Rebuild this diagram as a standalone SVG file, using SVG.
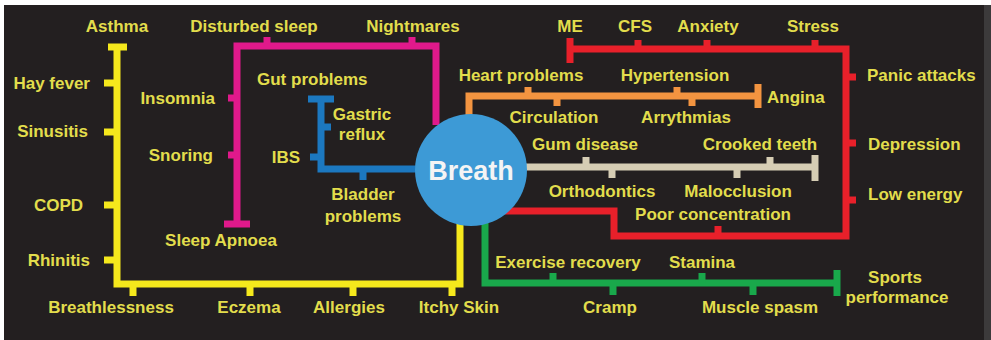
<svg xmlns="http://www.w3.org/2000/svg" width="991" height="340" viewBox="0 0 991 340">
<style>
text{font-family:"Liberation Sans",Arial,sans-serif;font-weight:bold;font-size:17px;fill:#e2dd4c}
.m{text-anchor:middle}.e{text-anchor:end}
.c path{fill:none;stroke-width:7;stroke-linecap:butt;stroke-linejoin:miter}
.y path{stroke:#f5e81c}.p path{stroke:#e0198b}.b path{stroke:#1c78c0}.o path{stroke:#f39440}
.t path{stroke:#d6cdb4}.r path{stroke:#e8202a}.g path{stroke:#19a84b}
</style>
<rect width="991" height="340" fill="#ffffff"/>
<rect x="4" y="5" width="981" height="335" fill="#231f20"/>
<rect x="984" y="5" width="7" height="335" fill="#3c3a3b"/>
<g id="connectors" class="c">
<g class="y"><path d="M117,44V284H460V222"/><path d="M108,47H127"/><path d="M104,83H117M104,132H117M104,205H117M104,260H117"/><path d="M133,284V296M250,284V296M353,284V296M452,284V296"/></g>
<g class="p"><path d="M237,224V46H436V125"/><path d="M224,224H250"/><path d="M267,46V37M412,46V37M237,98H228M237,155H228"/></g>
<g class="b"><path d="M321,99V169H420"/><path d="M308,99H334"/><path d="M321,127H331M321,157H310M363,169V180"/></g>
<g class="o"><path d="M469,120V96H758"/><path d="M758,84V108"/><path d="M528,96V87M677,96V87M557,96V106M692,96V106"/></g>
<g class="t"><path d="M520,167H815"/><path d="M815,155V181"/><path d="M586,167V157M770,167V157M612,167V178M737,167V178"/></g>
<g class="r"><path d="M570,49H846V236H614V211H505"/><path d="M570,38V63"/><path d="M638,49V40M707,49V40M815,49V40M846,77H856M846,143H856M846,200H856M718,236V226"/></g>
<g class="g"><path d="M485,222V283H837"/><path d="M837,270V296"/><path d="M553,283V273M702,283V273M613,283V295M753,283V295"/></g>
</g>
<g id="breath"><circle cx="471" cy="170" r="56" fill="#3d9ad6"/><text x="471" y="180" class="m" style="font-size:27px;fill:#f4f4f4">Breath</text></g>
<g id="asthma"><text x="117" y="32" class="m">Asthma</text></g>
<g id="disturbed-sleep"><text x="254" y="32" class="m">Disturbed sleep</text></g>
<g id="nightmares"><text x="413" y="32" class="m">Nightmares</text></g>
<g id="me"><text x="570" y="32" class="m">ME</text></g>
<g id="cfs"><text x="635" y="32" class="m">CFS</text></g>
<g id="anxiety"><text x="708" y="32" class="m">Anxiety</text></g>
<g id="stress"><text x="813" y="32" class="m">Stress</text></g>
<g id="hay-fever"><text x="90" y="89" class="e">Hay fever</text></g>
<g id="sinusitis"><text x="88" y="137" class="e">Sinusitis</text></g>
<g id="copd"><text x="83" y="211" class="e">COPD</text></g>
<g id="rhinitis"><text x="90" y="266" class="e">Rhinitis</text></g>
<g id="insomnia"><text x="215" y="104" class="e">Insomnia</text></g>
<g id="snoring"><text x="213" y="161" class="e">Snoring</text></g>
<g id="sleep-apnoea"><text x="221" y="246" class="m">Sleep Apnoea</text></g>
<g id="gut-problems"><text x="257" y="85">Gut problems</text></g>
<g id="gastric-reflux"><text x="362" y="120" class="m">Gastric</text><text x="362" y="140" class="m">reflux</text></g>
<g id="ibs"><text x="300" y="163" class="e">IBS</text></g>
<g id="bladder-problems"><text x="363" y="200" class="m">Bladder</text><text x="363" y="222" class="m">problems</text></g>
<g id="heart-problems"><text x="521" y="81" class="m">Heart problems</text></g>
<g id="hypertension"><text x="675" y="81" class="m">Hypertension</text></g>
<g id="circulation"><text x="554" y="123" class="m">Circulation</text></g>
<g id="arrythmias"><text x="686" y="123" class="m">Arrythmias</text></g>
<g id="angina"><text x="767" y="103">Angina</text></g>
<g id="gum-disease"><text x="585" y="150" class="m">Gum disease</text></g>
<g id="crooked-teeth"><text x="760" y="150" class="m">Crooked teeth</text></g>
<g id="orthodontics"><text x="602" y="197" class="m">Orthodontics</text></g>
<g id="malocclusion"><text x="738" y="197" class="m">Malocclusion</text></g>
<g id="poor-concentration"><text x="713" y="220" class="m">Poor concentration</text></g>
<g id="panic-attacks"><text x="867" y="81">Panic attacks</text></g>
<g id="depression"><text x="868" y="150">Depression</text></g>
<g id="low-energy"><text x="868" y="200">Low energy</text></g>
<g id="exercise-recovery"><text x="568" y="268" class="m">Exercise recovery</text></g>
<g id="stamina"><text x="702" y="268" class="m">Stamina</text></g>
<g id="cramp"><text x="610" y="313" class="m">Cramp</text></g>
<g id="muscle-spasm"><text x="760" y="313" class="m">Muscle spasm</text></g>
<g id="sports-performance"><text x="895" y="283" class="m">Sports</text><text x="897" y="303" class="m">performance</text></g>
<g id="breathlessness"><text x="111" y="313" class="m">Breathlessness</text></g>
<g id="eczema"><text x="249" y="313" class="m">Eczema</text></g>
<g id="allergies"><text x="349" y="313" class="m">Allergies</text></g>
<g id="itchy-skin"><text x="459" y="313" class="m">Itchy Skin</text></g>
</svg>
